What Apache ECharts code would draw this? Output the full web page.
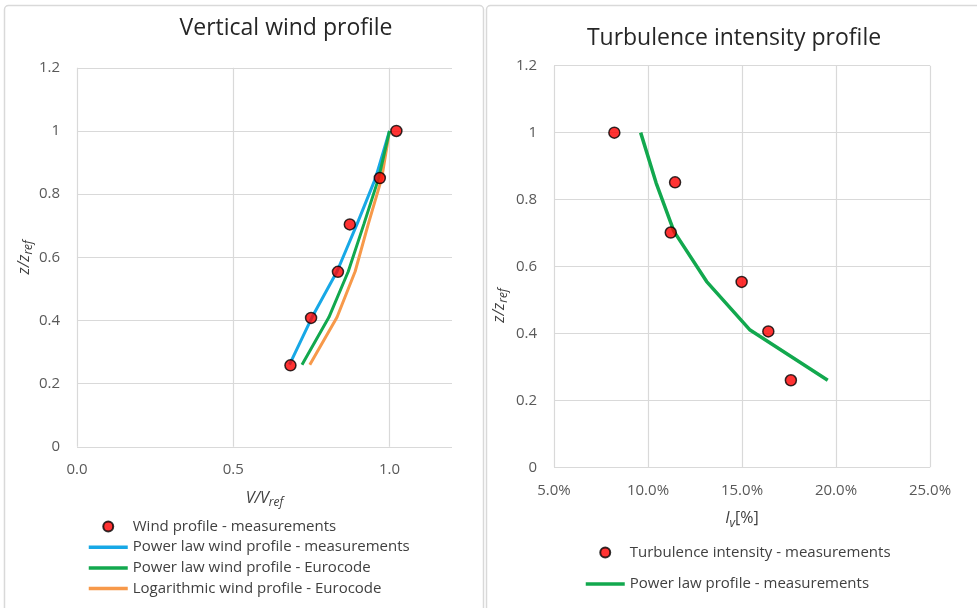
<!DOCTYPE html>
<html>
<head>
<meta charset="utf-8">
<script src="https://cdn.jsdelivr.net/npm/echarts@6.0.0/dist/echarts.min.js"></script>
<style>
html,body{margin:0;padding:0;background:#fff;}
#chart{width:977px;height:608px;}
</style>
</head>
<body>
<div id="chart"></div>
<script>
// ---- Data ----
const heights = [0.26, 0.41, 0.555, 0.705, 0.85, 1.0];
const windMeasV = [0.683, 0.749, 0.835, 0.873, 0.969, 1.022];
const windMeasZ = [0.258, 0.408, 0.554, 0.704, 0.851, 1.0];
const powerLawMeas = [0.68, 0.752, 0.832, 0.896, 0.955, 1.0];
const powerLawEuro = [0.72, 0.806, 0.868, 0.918, 0.965, 1.0];
const logEuro = [0.745, 0.832, 0.89, 0.932, 0.975, 1.0];
const tiMeasI = [0.176, 0.164, 0.1498, 0.1121, 0.1144, 0.0821];
const tiMeasZ = [0.26, 0.406, 0.554, 0.7015, 0.8516, 1.0];
const tiPowerLaw = [0.1956, 0.1543, 0.1312, 0.1138, 0.1043, 0.0961];
const yTicks = [0, 0.2, 0.4, 0.6, 0.8, 1, 1.2];
const xTicksLeft = [0.0, 0.5, 1.0];
const xTicksRight = [0.05, 0.10, 0.15, 0.20, 0.25];
const titles = ['Vertical wind profile', 'Turbulence intensity profile'];
const legendLeft = ['Wind profile - measurements', 'Power law wind profile - measurements', 'Power law wind profile - Eurocode', 'Logarithmic wind profile - Eurocode'];
const legendRight = ['Turbulence intensity - measurements', 'Power law profile - measurements'];

const zip = (xs, ys) => xs.map((x, i) => [x, ys[i]]);

const FONT = 'Open Sans';
const GRID_C = '#d9d9d9';
const LABEL_C = '#595959';
const TEXT_C = '#404040';

const nameRich = {
  i: { fontStyle: 'italic', fontSize: 16, color: TEXT_C, fontFamily: FONT, lineHeight: 21 },
  s: { fontStyle: 'italic', fontSize: 12, color: TEXT_C, fontFamily: FONT, verticalAlign: 'bottom', lineHeight: 13 },
  n: { fontSize: 16, color: TEXT_C, fontFamily: FONT, lineHeight: 21 }
};

const chart = echarts.init(document.getElementById('chart'), null, { renderer: 'canvas' });

const yAxisBase = {
  type: 'value', min: yTicks[0], max: yTicks[yTicks.length - 1], interval: 0.2,
  axisLine: { show: false }, axisTick: { show: false },
  axisLabel: { color: LABEL_C, fontSize: 15, fontFamily: FONT, margin: 17 },
  splitLine: { show: true, lineStyle: { color: GRID_C, width: 1.2 } },
  nameLocation: 'middle'
};

const scatterStyle = { color: '#ff0000', borderColor: '#000', borderWidth: 1.5 };
const lineLegend = name => ({ name: name, itemStyle: { opacity: 0 } });

chart.setOption({
  animation: false,
  textStyle: { fontFamily: FONT },
  graphic: [
    { type: 'rect', shape: { x: 4.5, y: 5.5, width: 479, height: 640, r: 4 }, style: { fill: 'none', stroke: GRID_C, lineWidth: 1.5 }, silent: true, z: -10 },
    { type: 'rect', shape: { x: 486.5, y: 5.5, width: 520, height: 640, r: 4 }, style: { fill: 'none', stroke: GRID_C, lineWidth: 1.5 }, silent: true, z: -10 },
    { type: 'text', x: 286, y: 28, style: { text: titles[0], fontSize: 23, fontFamily: FONT, fill: '#262626', align: 'center', verticalAlign: 'middle' } },
    { type: 'text', x: 734, y: 38, style: { text: titles[1], fontSize: 23, fontFamily: FONT, fill: '#262626', align: 'center', verticalAlign: 'middle' } }
  ],
  grid: [
    { left: 77, top: 67.8, width: 375, height: 379, outerBoundsMode: 'none', containLabel: false },
    { left: 554, top: 65.7, width: 376, height: 401.6, outerBoundsMode: 'none', containLabel: false }
  ],
  xAxis: [
    {
      gridIndex: 0, type: 'value', min: xTicksLeft[0], max: 1.2, interval: xTicksLeft[1] - xTicksLeft[0],
      axisLine: { show: false }, axisTick: { show: false },
      axisLabel: { color: LABEL_C, fontSize: 15, fontFamily: FONT, margin: 15, showMaxLabel: false, formatter: v => v.toFixed(1) },
      splitLine: { show: true, showMaxLine: false, lineStyle: { color: GRID_C, width: 1.2 } },
      name: '{i|V/V}{s|ref}', nameLocation: 'middle', nameGap: 41,
      nameTextStyle: { rich: nameRich }
    },
    {
      gridIndex: 1, type: 'value', min: xTicksRight[0], max: xTicksRight[xTicksRight.length - 1], interval: 0.05,
      axisLine: { show: false }, axisTick: { show: false },
      axisLabel: { color: LABEL_C, fontSize: 15, fontFamily: FONT, margin: 16, formatter: v => (v * 100).toFixed(1) + '%' },
      splitLine: { show: true, lineStyle: { color: GRID_C, width: 1.2 } },
      name: '{i|I}{s|v}{n|[%]}', nameLocation: 'middle', nameGap: 41,
      nameTextStyle: { rich: nameRich }
    }
  ],
  yAxis: [
    Object.assign({}, yAxisBase, { gridIndex: 0, name: '{i|z/z}{s|ref}', nameGap: 42, nameTextStyle: { rich: nameRich } }),
    Object.assign({}, yAxisBase, { gridIndex: 1, name: '{i|z/z}{s|ref}', nameGap: 44, nameTextStyle: { rich: nameRich, padding: [0, 78, 0, 0] } })
  ],
  legend: [
    {
      orient: 'vertical', left: 87, top: 519, padding: 0, itemWidth: 39, itemHeight: 10, itemGap: 5.7,
      lineStyle: { width: 3.5 },
      textStyle: { color: TEXT_C, fontSize: 15, fontFamily: FONT, lineHeight: 15 },
      data: [legendLeft[0], lineLegend(legendLeft[1]), lineLegend(legendLeft[2]), lineLegend(legendLeft[3])]
    },
    {
      orient: 'vertical', left: 584, top: 545, padding: 0, itemWidth: 39, itemHeight: 10, itemGap: 16.6,
      lineStyle: { width: 3.5 },
      textStyle: { color: TEXT_C, fontSize: 15, fontFamily: FONT, lineHeight: 15 },
      data: [legendRight[0], lineLegend(legendRight[1])]
    }
  ],
  series: [
    { name: legendLeft[1], type: 'line', xAxisIndex: 0, yAxisIndex: 0, symbol: 'none', data: zip(powerLawMeas, heights), lineStyle: { color: '#17a8e6', width: 3 }, itemStyle: { color: '#17a8e6' }, z: 2 },
    { name: legendLeft[2], type: 'line', xAxisIndex: 0, yAxisIndex: 0, symbol: 'none', data: zip(powerLawEuro, heights), lineStyle: { color: '#12a84e', width: 3 }, itemStyle: { color: '#12a84e' }, z: 2 },
    { name: legendLeft[3], type: 'line', xAxisIndex: 0, yAxisIndex: 0, symbol: 'none', data: zip(logEuro, heights), lineStyle: { color: '#f7994a', width: 3 }, itemStyle: { color: '#f7994a' }, z: 1 },
    { name: legendLeft[0], type: 'scatter', xAxisIndex: 0, yAxisIndex: 0, symbol: 'circle', symbolSize: 11, data: zip(windMeasV, windMeasZ), itemStyle: scatterStyle, z: 5 },
    { name: legendRight[1], type: 'line', xAxisIndex: 1, yAxisIndex: 1, symbol: 'none', data: zip(tiPowerLaw, heights), lineStyle: { color: '#12a84e', width: 3.5 }, itemStyle: { color: '#12a84e' }, z: 2 },
    { name: legendRight[0], type: 'scatter', xAxisIndex: 1, yAxisIndex: 1, symbol: 'circle', symbolSize: 11, data: zip(tiMeasI, tiMeasZ), itemStyle: scatterStyle, z: 5 }
  ]
});
</script>
</body>
</html>
